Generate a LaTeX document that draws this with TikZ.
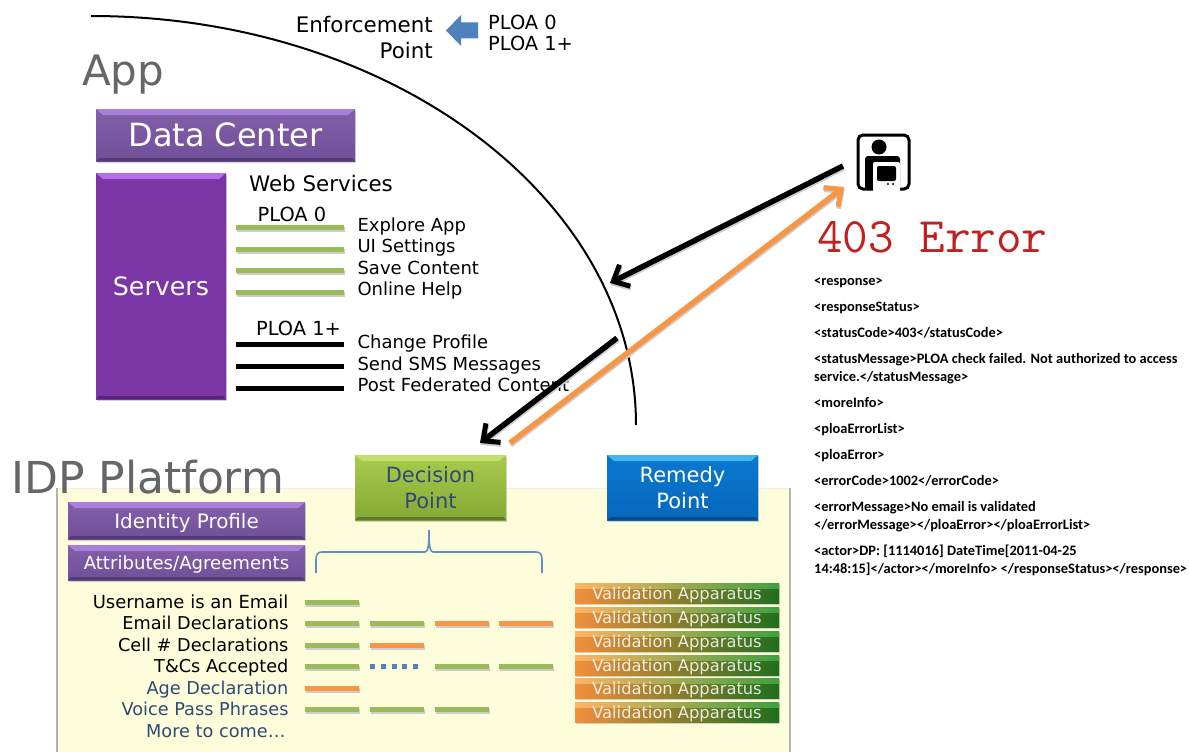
\documentclass[tikz,border=0pt]{standalone}
\usepackage{fontspec}
\setmainfont{DejaVu Sans}
\newfontfamily\xmlfont{Carlito}
\usetikzlibrary{arrows.meta,shadows}
\definecolor{ploagreen}{HTML}{9BBB59}
\definecolor{ploaorange}{HTML}{F79646}
\definecolor{ploablue}{HTML}{4F81BD}
\definecolor{darktext}{HTML}{2F4A75}
\definecolor{panelfill}{HTML}{FDFDDC}
\definecolor{errorred}{HTML}{C0201F}
\definecolor{purpletop}{HTML}{835FA8}
\definecolor{purplelow}{HTML}{70509A}
\definecolor{purplelight}{HTML}{A87FDA}
\definecolor{purpledark}{HTML}{553A78}
\definecolor{serverfill}{HTML}{7B36A6}
\definecolor{serverlight}{HTML}{B46EE8}
\definecolor{serverdark}{HTML}{56257A}
\definecolor{decisiontop}{HTML}{A6CC4C}
\definecolor{decisionlow}{HTML}{86A835}
\definecolor{decisionlight}{HTML}{C4E06C}
\definecolor{decisiondark}{HTML}{5F7A28}
\definecolor{remedytop}{HTML}{0A78D0}
\definecolor{remedylow}{HTML}{0668BC}
\definecolor{remedylight}{HTML}{45B4F0}
\definecolor{remedydark}{HTML}{044C8C}
\definecolor{validleft}{HTML}{F28F3C}
\definecolor{validmid}{HTML}{BFC48E}
\definecolor{validright}{HTML}{1F6F1F}
\definecolor{validtopleft}{HTML}{FFB566}
\definecolor{validtopmid}{HTML}{DDF5AC}
\definecolor{validtopright}{HTML}{3FA03F}
\def\sz#1{\fontsize{#1}{#1}\selectfont}
\tikzset{
	softshadow/.style={drop shadow={opacity=.35,shadow xshift=1pt,shadow yshift=-2pt}},
	barshadow/.style={preaction={draw=black!20,line width=5pt,transform canvas={shift={(0.7pt,-2pt)}}}},
	bevelbox/.style n args={4}{inner sep=0pt,top color=#1,bottom color=#2,softshadow,path picture={
		\fill[#3] (path picture bounding box.north west) -- (path picture bounding box.north east)
			-- ([shift={(-7pt,-6pt)}]path picture bounding box.north east) -- ([shift={(7pt,-6pt)}]path picture bounding box.north west) -- cycle;
		\fill[#4] (path picture bounding box.south west) -- (path picture bounding box.south east)
			-- ([shift={(-3pt,3pt)}]path picture bounding box.south east) -- ([shift={(3pt,3pt)}]path picture bounding box.south west) -- cycle;
	}},
	purplebox/.style={bevelbox={purpletop}{purplelow}{purplelight}{purpledark},text=white,text depth=0pt},
	validbox/.style={inner sep=0pt,minimum width=204pt,minimum height=20pt,softshadow,
		left color=validleft,middle color=validmid,right color=validright,text height=12pt,text depth=0pt,
		font=\sz{16.3},path picture={
			\shade[left color=validtopleft,middle color=validtopmid,right color=validtopright]
				(path picture bounding box.north west) rectangle ([yshift=-5pt]path picture bounding box.north east);
			\node[text=white,text opacity=.85,font=\sz{16.3},text height=12pt,text depth=0pt,inner sep=0pt] at (path picture bounding box.center) {Validation Apparatus};
		}},
	rowlabel/.style={anchor=mid east,font=\sz{17.7},text=black},
	servicelabel/.style={anchor=mid west,font=\sz{18}},
	xmlline/.style={anchor=mid west,font=\xmlfont\bfseries\sz{14.4},text=black,inner sep=0pt},
	goodbar/.style={draw=ploagreen,line width=5pt,barshadow},
	badbar/.style={draw=ploaorange,line width=5pt,barshadow},
	blockedbar/.style={draw=black,line width=5pt},
	bigarrow/.style={line width=5.5pt,barshadow,-{Straight Barb[length=13pt,width=24pt,line width=5pt]}},
}
\begin{document}
\begin{tikzpicture}[x=1pt,y=-1pt]
	%%%%% START %%%%%
	\useasboundingbox (0,0) rectangle (1189,752);

	% idp panel
	\fill[panelfill] (57,488) rectangle (790,752);
	\draw[draw=black!6,line width=1pt] (57,488) -- (790,488);
	\draw[draw=black!30,line width=2.5pt] (57,488) -- (57,752);
	\draw[draw=black!30,line width=2.5pt] (790,488) -- (790,752);

	% boundary curve
	\coordinate (curvetop) at (91,16);
	\coordinate (curveend) at (636,425);
	\draw[line width=2pt] (curvetop) .. controls (392,16) and (636,199) .. (curveend);

	% enforcement
	\node[anchor=mid east,font=\sz{21.4},inner sep=0pt] (enforce) at (433,30) {Enforcement};
	\node[anchor=mid east,font=\sz{21.4},inner sep=0pt] (enforcepoint) at (433,56) {Point};
	\fill[ploablue] (446,30.5) -- (461,15) -- (461,22.5) -- (478,22.5) -- (478,38.5) -- (461,38.5) -- (461,46) -- cycle;
	\node[anchor=mid west,font=\sz{19.4},inner sep=0pt] (ploazero) at (488,27) {PLOA 0};
	\node[anchor=mid west,font=\sz{19.4},inner sep=0pt] (ploaone) at (488,48) {PLOA 1+};

	\node[anchor=mid west,font=\sz{42},text=black!60,inner sep=0pt] (app) at (82,83) {App};
	\node[anchor=mid west,font=\sz{44},text=black!60,inner sep=0pt] (idp) at (11,491) {IDP Platform};

	% app side
	\node[purplebox,minimum width=259pt,minimum height=52pt,font=\sz{32}] (datacenter) at (225.5,135) {Data Center};
	\node[bevelbox={serverfill}{serverfill}{serverlight}{serverdark},text=white,minimum width=130pt,minimum height=226pt,font=\sz{25.3}] (servers) at (161,286) {Servers};
	\node[anchor=mid,font=\sz{21.4}] (webservices) at (321,189) {Web Services};
	\node[anchor=mid,font=\sz{19.4}] (webzero) at (292,219) {PLOA 0};
	\node[anchor=mid,font=\sz{19.4}] (webone) at (298.5,333) {PLOA 1+};

	\foreach \y in {227,249,270,292} \draw[goodbar] (236,\y) -- (344,\y);
	\foreach \y in {344,366,388} \draw[blockedbar] (236,\y) -- (344,\y);

	\node[servicelabel] (exploreapp) at (354,229) {Explore App};
	\node[servicelabel] (uisettings) at (354,250) {UI Settings};
	\node[servicelabel] (savecontent) at (354,272) {Save Content};
	\node[servicelabel] (onlinehelp) at (354,293) {Online Help};
	\node[servicelabel] (changeprofile) at (354,346) {Change Profile};
	\node[servicelabel] (sendsms) at (354,368) {Send SMS Messages};
	\node[servicelabel] (postcontent) at (354,389) {Post Federated Content};

	% points
	\node[bevelbox={decisiontop}{decisionlow}{decisionlight}{decisiondark},text=darktext,minimum width=151pt,minimum height=65pt,font=\sz{21},align=center] (decision) at (430.5,487.5) {Decision\\[5pt]Point};
	\node[bevelbox={remedytop}{remedylow}{remedylight}{remedydark},text=white,minimum width=151pt,minimum height=65pt,font=\sz{21},align=center] (remedy) at (682.5,487.5) {Remedy\\[5pt]Point};

	% idp side
	\node[purplebox,minimum width=237pt,minimum height=37pt,font=\sz{19.9}] (identity) at (186.5,520.5) {Identity Profile};
	\node[purplebox,minimum width=237pt,minimum height=35pt,font=\sz{18.1}] (attributes) at (186.5,562.5) {Attributes/Agreements};

	\draw[ploablue!90!white,line width=1.6pt] (316,573) -- (316,560) .. controls (316,554) and (318,552) .. (322,552) -- (425,552)
		.. controls (428,552) and (429,546) .. (429,530) .. controls (429,546) and (430,552) .. (433,552) -- (536,552)
		.. controls (540,552) and (542,554) .. (542,560) -- (542,573);

	\node[rowlabel,font=\sz{18}] (rowa) at (292,606) {Username is an Email};
	\node[rowlabel] (rowb) at (292,627) {Email Declarations};
	\node[rowlabel] (rowc) at (292,649) {Cell \# Declarations};
	\node[rowlabel] (rowd) at (292,670) {T\&Cs Accepted};
	\node[rowlabel,text=darktext] (rowe) at (292,692) {Age Declaration};
	\node[rowlabel,text=darktext] (rowf) at (292,713) {Voice Pass Phrases};
	\node[rowlabel,text=darktext] (rowg) at (289,735) {More to come…};

	\draw[goodbar] (305,602) -- ++(54,0);
	\draw[goodbar] (305,623) -- ++(54,0);
	\draw[goodbar] (370,623) -- ++(54,0);
	\draw[badbar] (435,623) -- ++(54,0);
	\draw[badbar] (499,623) -- ++(54,0);
	\draw[goodbar] (305,645) -- ++(54,0);
	\draw[badbar] (370,645) -- ++(54,0);
	\draw[goodbar] (305,666) -- ++(54,0);
	\draw[draw=ploablue,line width=5pt,dash pattern=on 5pt off 5.8pt] (370,666) -- ++(50,0);
	\draw[goodbar] (435,666) -- ++(54,0);
	\draw[goodbar] (499,666) -- ++(54,0);
	\draw[badbar] (305,688) -- ++(54,0);
	\draw[goodbar] (305,709) -- ++(54,0);
	\draw[goodbar] (370,709) -- ++(54,0);
	\draw[goodbar] (435,709) -- ++(54,0);

	\foreach \n/\y in {a/593,b/617,c/641,d/665,e/688,f/712}
		\node[validbox] (valid\n) at (677,\y) {};

	% device icon
	\draw[line width=3pt,rounded corners=5pt] (874,189) -- (858,189) -- (858,135) -- (909,135) -- (909,189) -- (899,189);
	\fill (879,147) circle (7.5);
	\fill[rounded corners=3pt] (865,190) -- (865,156) -- (900,156) -- (900,190) -- cycle;
	\fill[white,rounded corners=2pt] (873,192) -- (873,162) -- (900,162) -- (900,192) -- cycle;
	\fill[rounded corners=2pt] (877,166) rectangle (896,181);
	\fill (888,184) circle (1.2);
	\fill (893,184) circle (1.2);
	\coordinate (iconin) at (844,187);
	\coordinate (iconout) at (843,166);

	% arrows
	\coordinate (blackstart) at (617,338);
	\coordinate (blacktip) at (480,443);
	\coordinate (gatetip) at (610,283);
	\coordinate (orangestart) at (510,443);
	\draw[bigarrow] (iconout) -- (gatetip);
	\draw[bigarrow] (blackstart) -- (blacktip);
	\draw[bigarrow,ploaorange] (orangestart) -- (iconin);

	% error text
	\node[anchor=mid west,font=\ttfamily\sz{49.7},text=errorred,inner sep=0pt] (errortitle) at (817,250) {403 Error};
	\node[xmlline] (xmla) at (814,283) {<response>};
	\node[xmlline] (xmlb) at (814,309) {<responseStatus>};
	\node[xmlline] (xmlc) at (814,335) {<statusCode>403</statusCode>};
	\node[xmlline] (xmld) at (814,361) {<statusMessage>PLOA check failed. Not authorized to access};
	\node[xmlline] (xmle) at (814,379) {service.</statusMessage>};
	\node[xmlline] (xmlf) at (814,405) {<moreInfo>};
	\node[xmlline] (xmlg) at (814,431) {<ploaErrorList>};
	\node[xmlline] (xmlh) at (814,457) {<ploaError>};
	\node[xmlline] (xmli) at (814,483) {<errorCode>1002</errorCode>};
	\node[xmlline] (xmlj) at (814,509) {<errorMessage>No email is validated};
	\node[xmlline] (xmlk) at (814,527) {</errorMessage></ploaError></ploaErrorList>};
	\node[xmlline] (xmll) at (814,553) {<actor>DP: [1114016] DateTime[2011-04-25};
	\node[xmlline] (xmlm) at (814,571) {14:48:15]</actor></moreInfo> </responseStatus></response>};

	%%%%% END %%%%%
\end{tikzpicture}
\end{document}
